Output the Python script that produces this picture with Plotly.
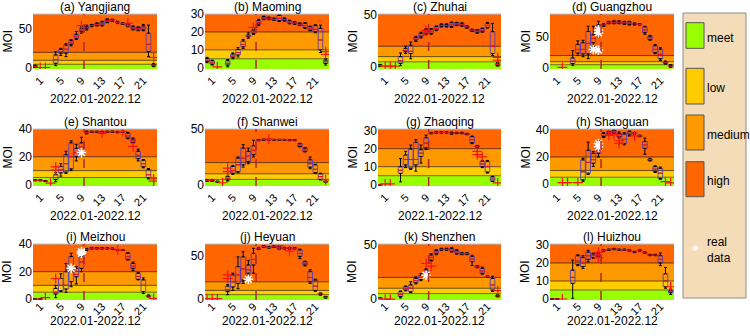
import plotly.graph_objects as go

W, H = 750, 336
FONT = "Liberation Sans, Arial, sans-serif"

positions = list(range(24))
x_tick_vals = [1, 5, 9, 13, 17, 21]
x_title_default = "2022.01-2022.12"
forecast_start = 9.5
thresholds = [5, 10, 20]
band_names = ["meet", "low", "medium", "high"]
band_colors = ["#99ff00", "#ffcc00", "#ff9900", "#ff6600"]

titles = ["(a) Yangjiang", "(b) Maoming", "(c) Zhuhai", "(d) Guangzhou",
          "(e) Shantou", "(f) Shanwei", "(g) Zhaoqing", "(h) Shaoguan",
          "(i) Meizhou", "(j) Heyuan", "(k) Shenzhen", "(l) Huizhou"]
x_titles = [x_title_default] * 12
x_titles[6] = "2022.1-2022.12"
show_moi = [True, False, True, True, True, False, True, True, True, False, True, True]
y_ranges = [[-0.9, 68], [-0.7, 30], [-1.9, 51], [-2, 88],
            [-1.1, 40], [-0.9, 50], [-0.7, 30.9], [-1.5, 40.7],
            [-0.7, 40.2], [-1.2, 64], [-0.9, 50.9], [-0.55, 30.5]]
y_ticks = [[0, 50], [0, 10, 20, 30], [0, 50], [0, 50],
           [0, 20, 40], [0, 50], [0, 10, 20, 30], [0, 20, 40],
           [0, 20, 40], [0, 50], [0, 50], [0, 10, 20, 30]]

# box stats per position: (lower whisker, q1, median, q3, upper whisker)
yangjiang = [(1, 1.5, 2.5, 3.5, 4), None, None, None, (3.3, 6.3, 11, 16.7, 20.8),
             (16, 18.8, 21, 23.7, 25), (14.6, 19, 24, 29, 31), (28, 30, 32, 34.6, 36),
             (36, 37.5, 40, 42.5, 46), (44, 46, 48, 50, 52), (48, 49.5, 51, 52.5, 54),
             (52, 53, 53.5, 54.5, 55), (53, 54, 55, 56, 57), (53, 54, 56, 58, 59),
             (57, 58, 59.5, 61, 62), (58.5, 59.5, 60, 61, 61.5), (56, 57, 57.5, 58, 59),
             (55, 55.5, 56, 56.5, 57), (52, 53, 54, 55, 56), (48, 49, 50.5, 52, 53),
             (47, 48, 49.5, 51, 52), (47, 48, 50.5, 53, 55), (14.6, 21, 30, 44, 54),
             (2, 3, 4, 5, 6)]
maoming = [(2.8, 3.4, 4.2, 5.2, 5.8), (1.5, 2.0, 2.8, 3.9, 4.2), None, None,
           (0.5, 1.5, 2.5, 3.9, 4.6), (5, 5.8, 6.5, 7.6, 8.3), (6, 7.1, 8.5, 10.2, 11.2),
           (10.7, 11.7, 13, 14.9, 15.8), (16.5, 17.3, 17.8, 18.3, 19.5),
           (18.5, 19.2, 20, 21, 21.5), (23.5, 24.4, 25.3, 26.3, 27),
           (26.8, 27.2, 27.8, 28.5, 28.8), (26.8, 27.1, 27.5, 28, 28.3),
           (26.4, 26.7, 27.1, 27.5, 27.8), (25.8, 26.3, 27.5, 29.2, 29.6),
           (26, 26.3, 26.9, 27.5, 27.8), (24.5, 24.8, 25.5, 26.2, 26.5),
           (24.2, 24.5, 25, 25.5, 25.8), (23.6, 23.9, 24.3, 24.8, 25),
           (22, 22.5, 23.6, 24.8, 25.2), (20.7, 21, 21.9, 22.9, 23.2),
           (19.5, 20.1, 21.5, 23.5, 24), (8.5, 10, 15.5, 22, 23.8), (1.5, 2.4, 3.3, 4.3, 5)]
zhuhai = [(0.5, 1, 1.5, 2, 2.5), None, None, None, (1.5, 3.5, 6, 10, 13.5),
          (13, 14.7, 16, 18, 20), (8, 13, 15, 21, 24), (24.5, 26, 27, 28.5, 29.5),
          (28, 29, 30.5, 32.4, 33.5), (31, 32.4, 34, 36.2, 37), (31.5, 32.4, 34, 36, 37),
          (35, 35.6, 37, 38.8, 39.5), (38.5, 39, 40, 41, 41.5), (38.5, 39, 40, 41, 41.5),
          (38, 38.8, 40.5, 42.6, 43.2), (39.8, 40.4, 41.5, 42.6, 43), (39.2, 39.7, 41, 42, 42.5),
          (37.3, 37.8, 38.6, 39.4, 39.8), (34.2, 34.6, 35.3, 36, 36.4), (32.5, 33, 34.3, 35.6, 36),
          (33.5, 34, 35.5, 37, 37.5), (37.5, 38, 40, 42, 43), (11, 13, 20, 34, 42),
          (1, 1.3, 2.5, 3.5, 4.5)]
guangzhou = [None, None, None, None, (4, 7, 11, 16, 28), (20, 24, 30, 38, 44),
             (18, 22.6, 30, 41, 45), (15, 22.6, 40, 59.5, 68), (35, 41, 48, 54, 68),
             (50, 54, 62, 70, 76), (68, 69, 70, 71, 72), (72, 73, 74, 75, 76),
             (72, 73, 74.5, 76, 77), (72, 73, 74.5, 76, 77), (71, 72, 73.5, 75, 76),
             (70, 71, 73, 75, 76), (70, 71, 71.8, 72.5, 73.5), (70, 70.5, 71, 71.5, 72),
             (55, 57.9, 62, 66.8, 68), (45, 46.3, 49, 51.6, 53), (23, 25, 30, 36, 38),
             (12, 14.7, 22, 30.5, 33), (6, 7, 8.2, 9.5, 11), (1, 1.6, 2.8, 4, 5)]
shantou = [(2.6, 2.8, 3, 3.2, 3.4), (2.6, 2.8, 3, 3.2, 3.4), (2, 2.2, 2.4, 2.6, 2.8), None,
           (2, 3.6, 5, 7, 8.5), (6, 8.4, 10.5, 13, 15), (8, 8.9, 15, 21.5, 24),
           (10, 11.2, 20, 30, 31.5), (17, 20, 23, 26, 29), (22, 24, 27, 30, 34),
           (36.5, 37, 37.5, 38, 38.5), (37.5, 37.8, 38, 38.2, 38.5), (37.5, 37.8, 38, 38.2, 38.5),
           (36.8, 37.2, 37.6, 38, 38.3), (37.5, 37.8, 38, 38.2, 38.5), (37.5, 37.8, 38, 38.2, 38.5),
           (37.3, 37.6, 37.8, 38, 38.3), (37.5, 37.8, 38, 38.2, 38.5), (33, 33.5, 35, 37, 37.5),
           (30, 30.3, 31.5, 32.8, 33.5), (17, 18.6, 21, 24, 25.5), (12, 12.7, 15, 17.5, 18),
           (4, 4.8, 7, 10.8, 11.5), None]
shanwei = [(3.3, 3.6, 3.9, 4.2, 4.5), (3.3, 3.6, 3.9, 4.2, 4.5), (2.5, 2.8, 3, 3.2, 3.5), None,
           (3.5, 4.5, 6, 7.5, 8), (9.5, 10.5, 13, 16.5, 17.5), (11, 12, 18, 24, 25),
           (16, 18, 24, 33, 36), (19, 21, 26, 30, 33), (25, 27, 31, 35, 40),
           (39.5, 39.8, 40, 40.2, 40.5), (40, 40.2, 40.5, 40.8, 41), (40, 40.2, 40.5, 40.8, 41),
           (40, 40.2, 40.4, 40.6, 40.8), (40, 40.2, 40.4, 40.6, 40.8), (40, 40.2, 40.4, 40.6, 40.8),
           (39.5, 39.8, 40, 40.2, 40.5), (39.5, 39.8, 40, 40.2, 40.5), (34, 34.4, 35.5, 36.8, 37.2),
           (29.5, 30, 31.5, 33, 33.5), (14.5, 15.9, 19, 22.5, 25), (10.5, 11, 14, 18, 18.5),
           (4.5, 5, 7.5, 10, 10.5), (2.5, 2.8, 3, 3.2, 3.5)]
zhaoqing = [(0, 0, 0, 0, 0), None, None, None, (1.6, 6.3, 8, 10, 14.5),
            (9.5, 11, 14, 16.5, 18.5), (8.5, 9.2, 14, 19.8, 22), (7.5, 11, 14, 23.5, 25),
            (12, 15.7, 17.5, 19.4, 22), (19.5, 20.4, 23, 26, 27.5), (28.2, 28.4, 28.6, 28.8, 29),
            (28.6, 28.8, 29, 29.2, 29.4), (28.6, 28.8, 29, 29.2, 29.4), (28.6, 28.8, 29, 29.2, 29.4),
            (28, 28.2, 28.6, 29, 29.2), (28.3, 28.5, 28.7, 28.9, 29.1), (28.3, 28.5, 28.7, 28.9, 29.1),
            (27.7, 27.9, 28.1, 28.3, 28.5), (22.8, 23.3, 25, 26.7, 27), (20.8, 21, 21.3, 21.6, 21.8),
            (9.5, 10, 11.5, 13, 13.5), (6.5, 7, 10, 13, 13.5), (1.8, 2, 3.2, 4.4, 4.7), None]
shaoguan = [None, None, None, None, None, None, (2, 3, 9, 17.8, 19), (7, 8, 16, 25, 31),
            (13, 15.3, 18, 22.7, 24), (20, 22.7, 25, 27.6, 32), (34.5, 35, 36, 37.5, 38),
            (37, 37.5, 38, 38.8, 39), (37.5, 38, 38.5, 39.5, 40), (34, 35, 36.5, 37.5, 38.5),
            (29, 30, 33, 37, 38), (35.5, 36.3, 37.5, 38.8, 39.2), (37, 37.2, 37.5, 37.8, 38),
            (35, 35.3, 35.6, 35.9, 36.2), (22, 26.4, 29, 31.4, 34), (17, 17.5, 18, 18.5, 19),
            (8.5, 9.1, 11, 12.8, 13.5), (3.5, 4.2, 8, 11.6, 12.5), None, None]
meizhou = [(0, 0, 0, 0, 0), (0, 0, 0, 0, 0), None, None, (1, 3.7, 5, 7.8, 10),
           (5.5, 6, 10, 15, 18.5), (5, 7.3, 10, 20, 26), (9, 12.7, 20, 31, 33.5),
           (11, 16.3, 18, 22.4, 23.6), (20, 22.4, 27, 31, 35.5), (35.5, 36, 36.3, 36.6, 37),
           (36.5, 36.8, 37, 37.2, 37.5), (36.5, 36.8, 37, 37.2, 37.5), (36.5, 36.8, 37, 37.2, 37.5),
           (36.5, 36.8, 37, 37.2, 37.5), (36.3, 36.6, 36.8, 37, 37.3), (35.4, 35.6, 35.8, 36, 36.2),
           (35.4, 35.6, 35.8, 36, 36.2), (28.5, 29, 31, 33.4, 34), (21, 22.4, 24, 26, 27),
           (14, 14.4, 16.5, 18.8, 19.5), (4, 5.4, 10, 14, 15.5), (1.5, 1.8, 2.2, 2.6, 3), None]
heyuan = [None, None, None, None, (5, 8.5, 11, 15, 17), (10, 14, 20, 28, 30),
          (12, 18, 28, 37.6, 49), (18, 22, 35, 49, 55), (28, 30, 34, 39.5, 45),
          (30, 39.5, 46, 53, 59), (57.5, 58, 58.5, 59, 59.5), (60, 60.5, 61, 61.5, 62),
          (59.2, 59.6, 60, 60.4, 60.8), (60, 60.5, 61, 61.5, 62), (58, 58.5, 59.5, 60.5, 61),
          (58.3, 58.6, 59, 59.4, 59.7), (58, 58.4, 59, 59.6, 60), (58.3, 58.6, 59, 59.4, 59.7),
          (47, 49.6, 53, 57, 58), (38.5, 39.5, 41.5, 43.4, 44), (18, 20, 25, 31.8, 34),
          (9, 9.7, 15, 22, 23), (4.5, 5, 5.8, 6.5, 7), (1, 1.5, 2, 2.5, 3)]
shenzhen = [(0.3, 0.5, 0.7, 0.9, 1.1), None, None, None, (1, 2.2, 4, 6.8, 7.5),
            (7.5, 8.3, 9.5, 11.4, 12), (6, 6.8, 10, 13, 16), (14, 15, 17, 19, 20.5),
            (17, 18, 20, 22, 23.5), (21, 22, 24, 26.9, 28), (35, 36, 38.5, 40.7, 42),
            (41, 42, 43.5, 45, 45.5), (45, 45.5, 46, 46.5, 47), (45, 45.5, 46, 46.5, 47),
            (43.5, 44, 45.5, 47, 47.5), (41.5, 42, 43.5, 45, 45.5), (41, 41.5, 42, 42.5, 43),
            (41, 41.5, 42, 42.5, 43), (31, 34.6, 37, 39.5, 40.5), (29, 29.5, 30, 30.5, 31),
            (23, 23.8, 26, 28.4, 29.5), (20.2, 20.5, 20.7, 21, 21.2), (7, 8.3, 13, 19, 21),
            (2, 2.3, 2.8, 3.3, 4)]
huizhou = [(0, 0, 0, 0, 0), (0, 0, 0, 0, 0), None, None, (0.4, 8.7, 12, 16, 21.6),
           (18.5, 19, 21, 24, 24.5), (17, 18, 20, 23, 24), (20.5, 22, 24, 26, 27),
           (22.6, 23, 24, 25, 25.4), (23.5, 23.8, 24.5, 25.3, 25.7), (26.5, 26.7, 26.9, 27.1, 27.3),
           (26.9, 27.1, 27.3, 27.5, 27.7), (27.3, 27.5, 27.7, 27.9, 28.1), (26.9, 27.1, 27.3, 27.5, 27.7),
           (26.9, 27.1, 27.3, 27.5, 27.7), (26.5, 26.7, 26.9, 27.1, 27.3), (25.7, 25.9, 26.1, 26.3, 26.5),
           (26.5, 26.7, 26.9, 27.1, 27.3), (25.3, 25.5, 25.7, 25.9, 26.1), (24, 24.2, 24.4, 24.6, 24.8),
           (24, 24.2, 24.4, 24.6, 24.8), (18.5, 20, 22, 24, 25.5), (6, 6.8, 10, 14, 17.5),
           (2.5, 3.5, 4.2, 4.8, 5.5)]

# outliers (position, MOI)
yangjiang_out = [(1, 1), (2, 1), (9, 53.5), (18, 56.5), (23, 13.5)]
maoming_out = [(2, 0.5), (9, 22.5), (23, 7.5), (23, 9)]
zhuhai_out = [(1, 0.8), (2, 0.8), (3, 0.8), (9, 35), (23, 9.3), (23, 6.7)]
guangzhou_out = [(2, 0.5)]
shantou_out = [(3, 1), (4, 12.7), (4, 10.3), (13, 37), (17, 38.2), (19, 27.5), (23, 4), (23, 2.4)]
shanwei_out = [(3, 2), (4, 15), (4, 12), (12, 41), (23, 4.5)]
zhaoqing_out = [(1, 0.5), (2, 0.5), (19, 18.5), (19, 16.7), (20, 15.4), (23, 1)]
shaoguan_out = [(2, 1), (3, 1), (5, 1), (11, 36), (12, 36.5), (13, 32), (13, 30), (16, 35.6),
                (22, 1.7), (23, 0.8)]
meizhou_out = [(2, 1), (4, 15), (16, 35.8), (23, 0.5)]
heyuan_out = [(0, 0.5), (1, 0.5), (2, 0.5), (4, 28), (4, 24), (14, 62), (16, 56)]
shenzhen_out = [(1, 0), (2, 0), (9, 33), (10, 30.5), (23, 7.7)]
huizhou_out = [(2, 0), (9, 26), (9, 23), (23, 6.8)]

# real observed data (position, MOI)
guangzhou_real = [(8, 30), (9, 29), (9, 62), (9, 57)]
shantou_real = [(9, 23)]
shaoguan_real = [(9, 30), (9, 27.5)]
meizhou_real = [(7, 22.4), (9, 33.4), (9, 34.5)]
heyuan_real = [(8, 23)]
shenzhen_real = [(9, 22)]

stats = [yangjiang, maoming, zhuhai, guangzhou, shantou, shanwei, zhaoqing, shaoguan,
         meizhou, heyuan, shenzhen, huizhou]
outliers = [yangjiang_out, maoming_out, zhuhai_out, guangzhou_out, shantou_out, shanwei_out,
            zhaoqing_out, shaoguan_out, meizhou_out, heyuan_out, shenzhen_out, huizhou_out]
reals = [[], [], [], guangzhou_real, shantou_real, [], [], shaoguan_real,
         meizhou_real, heyuan_real, shenzhen_real, []]

# ---- layout geometry (pixels) ----
col_px = [(33, 157), (205, 329), (378, 501), (550, 674)]
row_px = [(14, 69), (129, 186), (244, 300)]
xtitle_px = [99, 216, 321]
tick_standoff = [2, 2, -3]
moi_x = [7, None, 352, 525]

BOX_COLOR = "#4338d0"
fig = go.Figure()
shapes, annotations = [], []
layout = dict(width=W, height=H, margin=dict(l=0, r=0, t=0, b=0, autoexpand=False),
              paper_bgcolor="white", plot_bgcolor="white", showlegend=False,
              font=dict(family=FONT, color="black"))

def px_x(v):
    return v / W

def px_y(v):
    return 1 - v / H

for k in range(12):
    r, c = divmod(k, 4)
    n = "" if k == 0 else str(k + 1)
    xa, ya = "x" + n, "y" + n
    x0p, x1p = col_px[c]
    y0p, y1p = row_px[r]
    layout["xaxis" + n] = dict(domain=[px_x(x0p), px_x(x1p)], range=[-0.4, 23.65],
                               anchor=ya, tickmode="array", tickvals=x_tick_vals,
                               ticktext=[str(t) for t in x_tick_vals], tickangle=-45,
                               tickfont=dict(size=11, family=FONT), showgrid=False,
                               zeroline=False, showline=False, ticks="", automargin=False,
                               ticklabelstandoff=tick_standoff[r])
    layout["yaxis" + n] = dict(domain=[px_y(y1p), px_y(y0p)], range=y_ranges[k],
                               anchor=xa, tickmode="array", tickvals=y_ticks[k],
                               tickfont=dict(size=12, family=FONT), showgrid=False,
                               zeroline=False, showline=False, ticks="", automargin=False)
    top = y_ranges[k][1]
    lows = [y_ranges[k][0]] + thresholds
    highs = thresholds + [top]
    for lo, hi, col in zip(lows, highs, band_colors):
        shapes.append(dict(type="rect", xref=xa + " domain", yref=ya, x0=0, x1=1,
                           y0=lo, y1=hi, fillcolor=col, line=dict(width=0), layer="below"))
    for t, lc in zip(thresholds, ["#6b6a10", "#6a4a10", "#6a3510"]):
        shapes.append(dict(type="line", xref=xa + " domain", yref=ya, x0=0, x1=1,
                           y0=t, y1=t, line=dict(color=lc, width=1), layer="below"))
    shapes.append(dict(type="line", xref=xa + " domain", yref=ya + " domain", x0=0, x1=1,
                       y0=1, y1=1, line=dict(color="#a9c4e4", width=1)))
    shapes.append(dict(type="line", xref=xa, yref=ya + " domain", x0=forecast_start,
                       x1=forecast_start, y0=0, y1=1,
                       line=dict(color="#b3262a", width=1.5, dash="dash")))

    # boxes
    st = stats[k]
    xs = [p for p, s in zip(positions, st) if s is not None]
    sv = [s for s in st if s is not None]
    lo_w = [s[0] for s in sv]
    q1 = [s[1] for s in sv]
    md = [s[2] for s in sv]
    q3 = [s[3] for s in sv]
    hi_w = [s[4] for s in sv]
    fig.add_trace(go.Scatter(x=xs, y=q3, mode="markers", marker=dict(size=1, opacity=0),
                             error_y=dict(type="data", symmetric=False,
                                          array=[h - q for h, q in zip(hi_w, q3)],
                                          arrayminus=[0] * len(xs), color="black",
                                          thickness=1, width=1.5),
                             xaxis=xa, yaxis=ya, hoverinfo="skip"))
    fig.add_trace(go.Scatter(x=xs, y=q1, mode="markers", marker=dict(size=1, opacity=0),
                             error_y=dict(type="data", symmetric=False,
                                          array=[0] * len(xs),
                                          arrayminus=[q - l for q, l in zip(q1, lo_w)],
                                          color="black", thickness=1, width=1.5),
                             xaxis=xa, yaxis=ya, hoverinfo="skip"))
    fig.add_trace(go.Box(x=xs, q1=q1, median=md, q3=q3, lowerfence=q1, upperfence=q3,
                         width=0.9, whiskerwidth=0, boxpoints=False,
                         line=dict(color=BOX_COLOR, width=0.8), fillcolor="rgba(0,0,0,0)",
                         xaxis=xa, yaxis=ya, hoverinfo="skip"))
    fig.add_trace(go.Scatter(x=xs, y=md, mode="markers",
                             marker=dict(symbol="line-ew", size=3.5,
                                         line=dict(color="#e8141c", width=1.1)),
                             xaxis=xa, yaxis=ya, hoverinfo="skip"))
    if outliers[k]:
        fig.add_trace(go.Scatter(x=[o[0] for o in outliers[k]], y=[o[1] for o in outliers[k]],
                                 mode="markers",
                                 marker=dict(symbol="cross-thin", size=7, color="#ff1010",
                                             line=dict(color="#ff1010", width=1.2)),
                                 xaxis=xa, yaxis=ya, hoverinfo="skip"))
    if reals[k]:
        fig.add_trace(go.Scatter(x=[o[0] for o in reals[k]], y=[o[1] for o in reals[k]],
                                 mode="markers",
                                 marker=dict(symbol="asterisk-open", size=8, color="white",
                                             line=dict(color="white", width=1.5)),
                                 xaxis=xa, yaxis=ya, hoverinfo="skip"))

    cx = (x0p + x1p) / 2
    annotations.append(dict(text=titles[k], x=px_x(cx), y=px_y(y0p - 7), xref="paper",
                            yref="paper", showarrow=False, xanchor="center", yanchor="middle",
                            font=dict(size=12, family=FONT)))
    annotations.append(dict(text=x_titles[k], x=px_x(cx), y=px_y(xtitle_px[r]), xref="paper",
                            yref="paper", showarrow=False, xanchor="center", yanchor="middle",
                            font=dict(size=12, family=FONT)))
    if show_moi[k]:
        annotations.append(dict(text="MOI", x=px_x(moi_x[c]), y=px_y((y0p + y1p) / 2),
                                xref="paper", yref="paper", showarrow=False, textangle=-90,
                                xanchor="center", yanchor="middle",
                                font=dict(size=12, family=FONT)))

# ---- legend panel ----
shapes.append(dict(type="rect", xref="paper", yref="paper", x0=px_x(683), x1=px_x(746),
                   y0=px_y(298), y1=px_y(13), fillcolor="#f4dcb8",
                   line=dict(color="#8c8c8c", width=1)))
sq_y = [(22.7, 48.3), (68.3, 104), (115, 150), (161.7, 196.7)]
for (a, b), col, name in zip(sq_y, band_colors, band_names):
    shapes.append(dict(type="rect", xref="paper", yref="paper", x0=px_x(686), x1=px_x(704),
                       y0=px_y(b), y1=px_y(a), fillcolor=col,
                       line=dict(color="#555555", width=1)))
    annotations.append(dict(text=name, x=px_x(705), y=px_y((a + b) / 2 + 2), xref="paper",
                            yref="paper", showarrow=False, xanchor="left", yanchor="middle",
                            font=dict(size=12, family=FONT)))
annotations.append(dict(text="real<br>data", x=px_x(705), y=px_y(250), xref="paper",
                        yref="paper", showarrow=False, xanchor="left", yanchor="middle",
                        align="left", font=dict(size=12, family=FONT)))
annotations.append(dict(text="✱", x=px_x(695), y=px_y(248), xref="paper", yref="paper",
                        showarrow=False, xanchor="center", yanchor="middle",
                        font=dict(size=8, family="DejaVu Sans", color="white")))

layout["shapes"] = shapes
layout["annotations"] = annotations
fig.update_layout(**layout)
fig.update_traces(showlegend=False)
fig.write_html("out.html", config={"displayModeBar": False},
               post_script="document.body.style.margin='0px';document.body.style.overflow='hidden';")
